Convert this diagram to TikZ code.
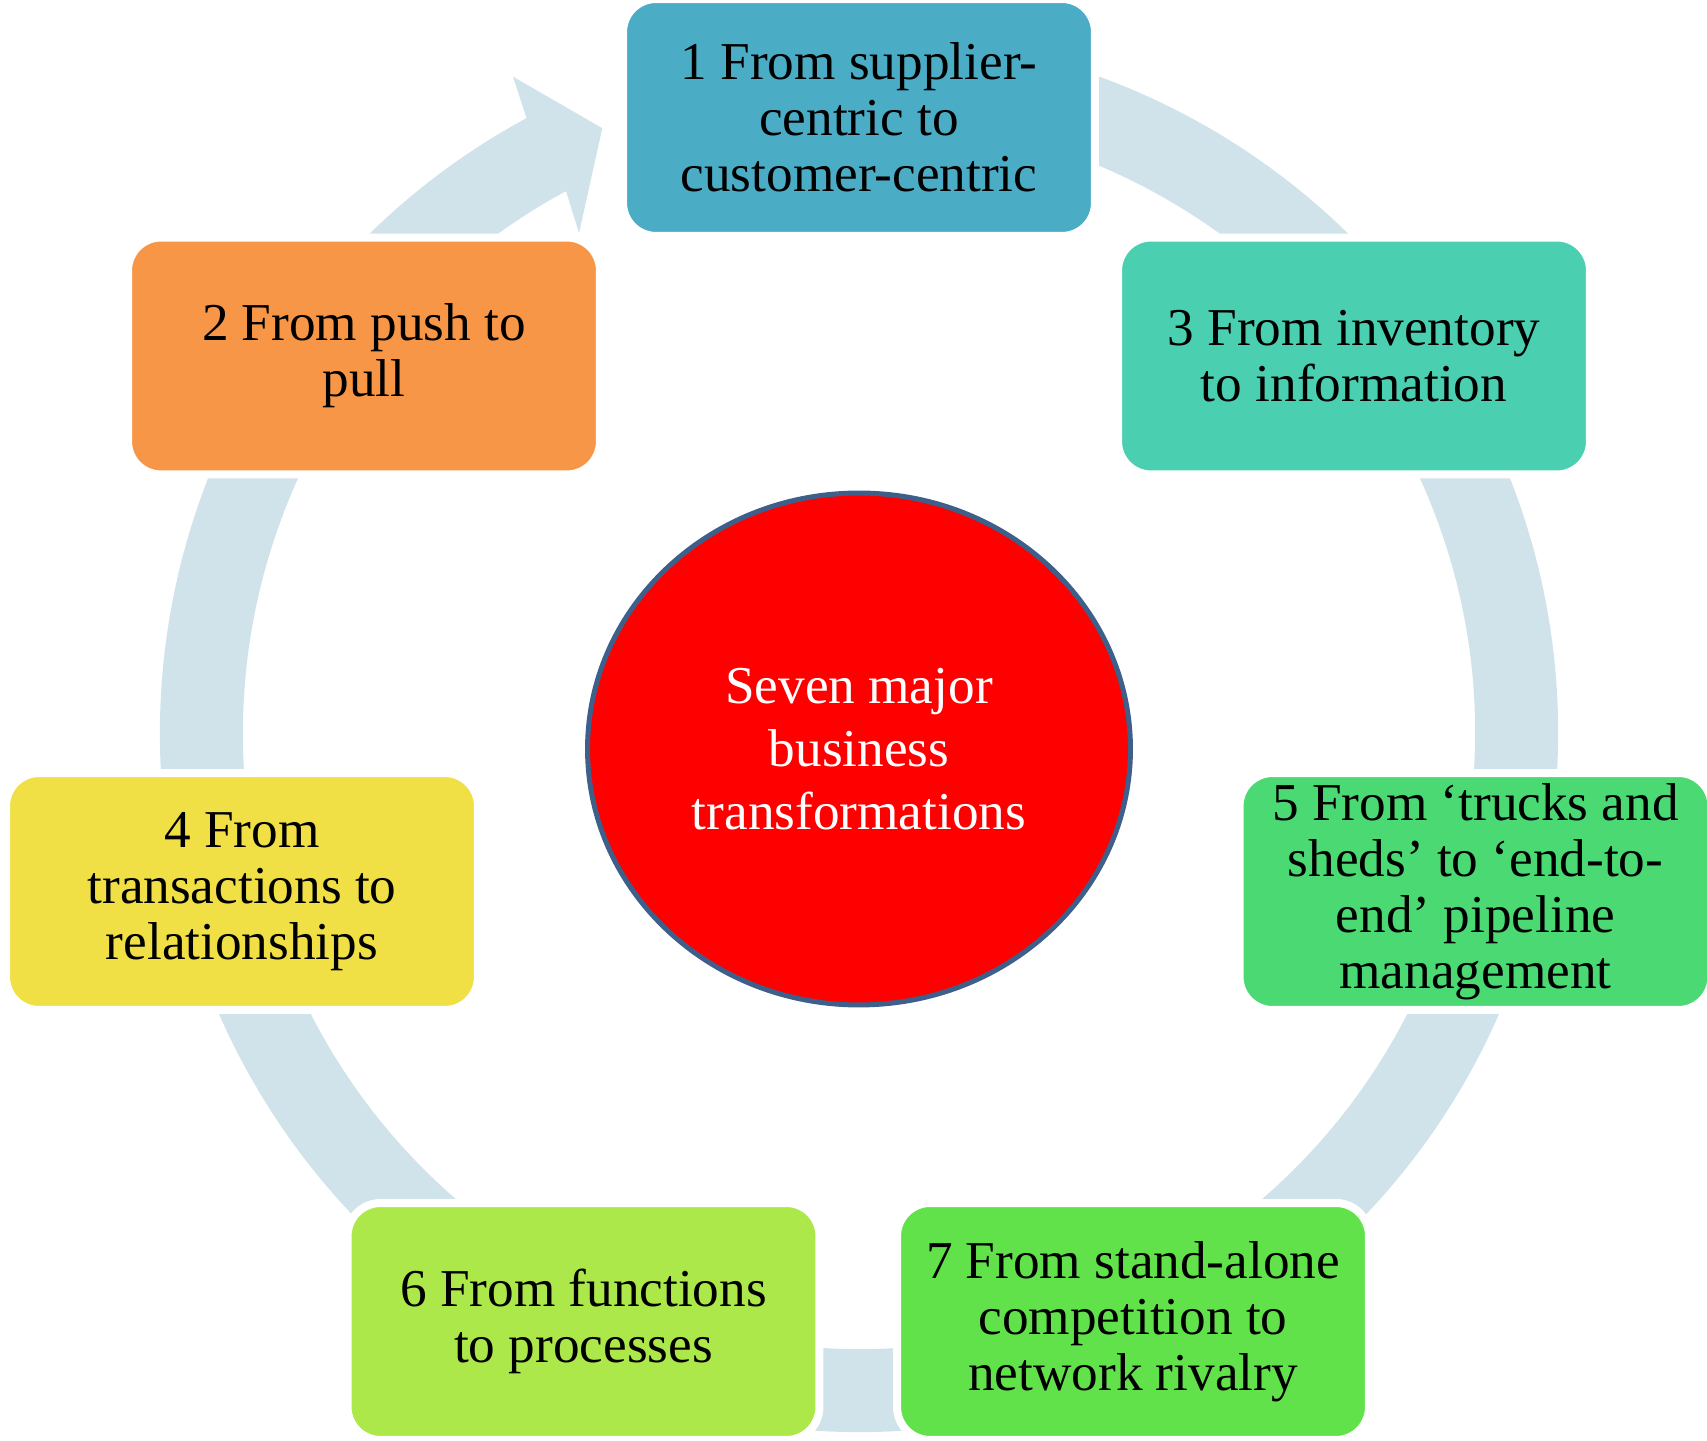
\documentclass[tikz,border=0pt]{standalone}
\usepackage{fontspec}
\setmainfont{Liberation Serif}
\usetikzlibrary{shapes.geometric, positioning}
\definecolor{ringblue}{HTML}{D0E3EA}
\definecolor{rimblue}{HTML}{3F5F8B}
\definecolor{stageA}{HTML}{4BACC6}
\definecolor{stageB}{HTML}{F79646}
\definecolor{stageC}{HTML}{4ACFB0}
\definecolor{stageD}{HTML}{F0E046}
\definecolor{stageE}{HTML}{4AD973}
\definecolor{stageF}{HTML}{ACE84A}
\definecolor{stageG}{HTML}{62E24A}
\tikzstyle{stagebox} = [rectangle, rounded corners=0.66cm, minimum width=9.44cm, minimum height=4.74cm, text centered, align=center, draw=white, line width=0.16cm, font=\fontsize{30.3}{31.8}\selectfont]
\tikzstyle{hub} = [ellipse, minimum width=10.86cm, minimum height=10.24cm, draw=rimblue, line width=0.1cm, fill=red, text=white, align=center, font=\fontsize{30.3}{35.9}\selectfont]
\tikzstyle{cycle} = [ringblue, line width=1.66cm]

\begin{document}
\begin{tikzpicture}[x=0.02cm, y=0.02cm]
    \useasboundingbox (0,0) rectangle (1707,1440);

    % Ring and arrow head
    \coordinate (mid) at (859,707);
    \draw [cycle] (mid) ++(118:657.5) arc [start angle=118, end angle=460, radius=657.5];
    \fill [ringblue, shift={(mid)}] (118.4:699) -- (117.8:742) -- (113:657) -- (119.25:573) -- (118.4:616) -- cycle;

    % Stages
    \node (stage1) [stagebox, fill=stageA] at (859,1322.5) {1 From supplier-\\centric to\\customer-centric};
    \node (stage2) [stagebox, fill=stageB] at (364,1084) {2 From push to\\pull};
    \node (stage3) [stagebox, fill=stageC] at (1354,1084) {3 From inventory\\to information};
    \node (stage4) [stagebox, fill=stageD] at (242,548.5) {4 From\\transactions to\\relationships};
    \node (stage5) [stagebox, fill=stageE] at (1475.5,548.5) {5 From ‘trucks and\\sheds’ to ‘end-to-\\end’ pipeline\\management};
    \node (stage6) [stagebox, fill=stageF] at (583.5,118.5) {6 From functions\\to processes};
    \node (stage7) [stagebox, fill=stageG] at (1133,118.5) {7 From stand-alone\\competition to\\network rivalry};

    % Centre
    \node (hub) [hub] at (859,691) {Seven major\\business\\transformations};

\end{tikzpicture}
\end{document}
